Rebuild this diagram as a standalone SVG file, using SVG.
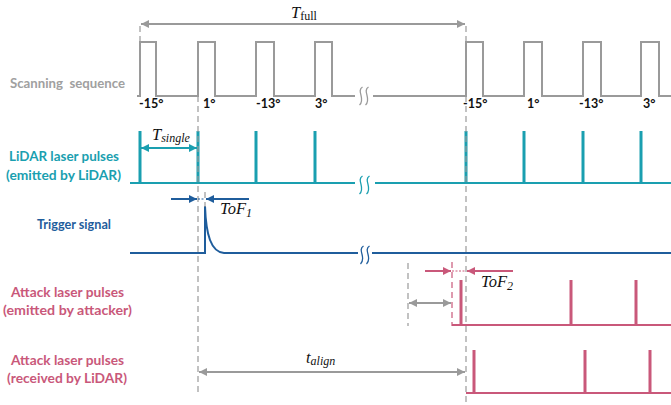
<svg xmlns="http://www.w3.org/2000/svg" width="671" height="405" viewBox="0 0 671 405">
<style>
.lbl{font-family:Lato,"Open Sans","Liberation Sans",sans-serif;font-weight:bold;font-size:13.5px}
.deg{font-family:Lato,"Open Sans","Liberation Sans",sans-serif;font-weight:bold;font-size:12.5px;fill:#111}
.math{font-family:"Liberation Serif","DejaVu Serif",serif;font-style:italic;font-size:16.5px;fill:#111}
.sub{font-size:12px}
.gray{stroke:#9a9a9a}
.teal{stroke:#1a9fb0}
.blue{stroke:#1f5d9c}
.pink{stroke:#c9587a}
.dash{stroke:#9a9a9a;stroke-width:1.2;stroke-dasharray:6,4;fill:none}
.brk{fill:none;stroke-width:1.3}
</style>
<defs>
<marker id="ag" viewBox="0 0 10 10" refX="10" refY="5" markerWidth="6" markerHeight="4" orient="auto-start-reverse" markerUnits="strokeWidth"><path d="M0,0 L10,5 L0,10 z" fill="#9a9a9a"/></marker>
<marker id="at" viewBox="0 0 10 10" refX="10" refY="5" markerWidth="6" markerHeight="4" orient="auto-start-reverse" markerUnits="strokeWidth"><path d="M0,0 L10,5 L0,10 z" fill="#1a9fb0"/></marker>
<marker id="ab" viewBox="0 0 10 10" refX="10" refY="5" markerWidth="6" markerHeight="4" orient="auto-start-reverse" markerUnits="strokeWidth"><path d="M0,0 L10,5 L0,10 z" fill="#1f5d9c"/></marker>
<marker id="ap" viewBox="0 0 10 10" refX="10" refY="5" markerWidth="6" markerHeight="4" orient="auto-start-reverse" markerUnits="strokeWidth"><path d="M0,0 L10,5 L0,10 z" fill="#c9587a"/></marker>
<path id="bk" d="M1.5,-9 C-5,-5 5,3 -1.5,9"/>
</defs>

<!-- labels -->
<g id="label-scan"><text class="lbl" x="10" y="88" fill="#a0a0a0" textLength="115" lengthAdjust="spacingAndGlyphs" xml:space="preserve">Scanning  sequence</text></g>
<g id="label-lidar"><text class="lbl" x="9" y="161" fill="#1a9fb0" textLength="110" lengthAdjust="spacingAndGlyphs">LiDAR laser pulses</text>
<text class="lbl" x="6" y="180" fill="#1a9fb0" textLength="115" lengthAdjust="spacingAndGlyphs">(emitted by LiDAR)</text></g>
<g id="label-trigger"><text class="lbl" x="37" y="229" fill="#1f5d9c" textLength="74" lengthAdjust="spacingAndGlyphs">Trigger signal</text></g>
<g id="label-attack1"><text class="lbl" x="11" y="297" fill="#c9587a" textLength="113" lengthAdjust="spacingAndGlyphs">Attack laser pulses</text>
<text class="lbl" x="3" y="315" fill="#c9587a" textLength="129" lengthAdjust="spacingAndGlyphs">(emitted by attacker)</text></g>
<g id="label-attack2"><text class="lbl" x="11" y="365" fill="#c9587a" textLength="113" lengthAdjust="spacingAndGlyphs">Attack laser pulses</text>
<text class="lbl" x="7" y="383" fill="#c9587a" textLength="120" lengthAdjust="spacingAndGlyphs">(received by LiDAR)</text></g>

<!-- scanning sequence -->
<g id="scan">
<path class="gray" fill="none" stroke-width="2" d="M137,96 H140 V42 H156 V96 H198 V42 H215 V96 H256 V42 H274 V96 H315 V42 H332 V96 H355"/>
<path class="gray" fill="none" stroke-width="2" d="M373,96 H466 V42 H483 V96 H524 V42 H542 V96 H583 V42 H601 V96 H641 V42 H659 V96 H671"/>
<use href="#bk" class="brk gray" x="361" y="96"/><use href="#bk" class="brk gray" x="367" y="96"/>
<text class="deg" x="139" y="108">-15°</text>
<text class="deg" x="203" y="108">1°</text>
<text class="deg" x="256" y="108">-13°</text>
<text class="deg" x="315" y="108">3°</text>
<text class="deg" x="463" y="108">-15°</text>
<text class="deg" x="527" y="108">1°</text>
<text class="deg" x="579" y="108">-13°</text>
<text class="deg" x="643" y="108">3°</text>
</g>

<!-- LiDAR pulses -->
<g id="lidar">
<path class="teal" fill="none" stroke-width="2" d="M130,183 H355 M375,183 H671"/>
<path class="teal" stroke-width="3" d="M140,131 V183 M198,131 V183 M256,131 V183 M315,131 V183 M466,131 V183 M524,131 V183 M583,131 V183 M641,131 V183"/>
<use href="#bk" class="brk teal" x="361" y="185"/><use href="#bk" class="brk teal" x="368" y="185"/>
</g>

<!-- trigger -->
<g id="trigger">
<path class="blue" fill="none" stroke-width="2" d="M130,253 H205 V206 C206,235 211,252 224,253 H358 M372,253 H671"/>
<use href="#bk" class="brk blue" x="362" y="255"/><use href="#bk" class="brk blue" x="368" y="255"/>
</g>

<!-- attack emitted -->
<g id="attack-emitted">
<path class="pink" fill="none" stroke-width="2" d="M452,325 H671"/>
<path class="pink" stroke-width="3" d="M461,280 V325 M571,280 V325 M636,280 V325"/>
</g>

<!-- attack received -->
<g id="attack-received">
<path class="pink" fill="none" stroke-width="2" d="M466,393 H671"/>
<path class="pink" stroke-width="3" d="M474,350 V393 M585,350 V393 M650,350 V393"/>
</g>

<!-- connectors / annotations -->
<g id="connectors">
<path class="dash" d="M140,26 V42"/>
<path class="dash" d="M198,96 V396"/>
<path class="dash" d="M466,26 V405"/>
<path class="dash" d="M205,192 V207"/>
<path class="dash" d="M408,263 V326"/>
<path class="dash" style="stroke:#c9587a" d="M452,262 V326"/>
<line class="gray" x1="141" y1="24" x2="465" y2="24" stroke-width="2" marker-start="url(#ag)" marker-end="url(#ag)"/>
<line class="teal" x1="141" y1="148" x2="197" y2="148" stroke-width="2" marker-start="url(#at)" marker-end="url(#at)"/>
<line class="blue" x1="171" y1="199" x2="197" y2="199" stroke-width="2" marker-end="url(#ab)"/>
<line class="blue" x1="249" y1="199" x2="206" y2="199" stroke-width="2" marker-end="url(#ab)"/>
<line class="blue" x1="198" y1="199" x2="205" y2="199" stroke-width="1" stroke-dasharray="2,1.5"/>
<line class="pink" x1="425" y1="271" x2="451" y2="271" stroke-width="2" marker-end="url(#ap)"/>
<line class="pink" x1="513" y1="271" x2="467" y2="271" stroke-width="2" marker-end="url(#ap)"/>
<line class="pink" x1="452" y1="271" x2="466" y2="271" stroke-width="1" stroke-dasharray="2,1.5"/>
<line class="gray" x1="409" y1="303" x2="451" y2="303" stroke-width="2" marker-start="url(#ag)" marker-end="url(#ag)"/>
<line class="gray" x1="199" y1="372" x2="465" y2="372" stroke-width="2" marker-start="url(#ag)" marker-end="url(#ag)"/>
<text class="math" x="291" y="18">T<tspan class="sub" style="font-style:normal" dy="2">full</tspan></text>
<text class="math" x="152" y="140">T<tspan class="sub" dy="2">single</tspan></text>
<text class="math" x="220" y="214">ToF<tspan class="sub" dy="3">1</tspan></text>
<text class="math" x="481" y="287">ToF<tspan class="sub" dy="3">2</tspan></text>
<text class="math" x="306" y="363">t<tspan class="sub" dy="2">align</tspan></text>
</g>
</svg>
